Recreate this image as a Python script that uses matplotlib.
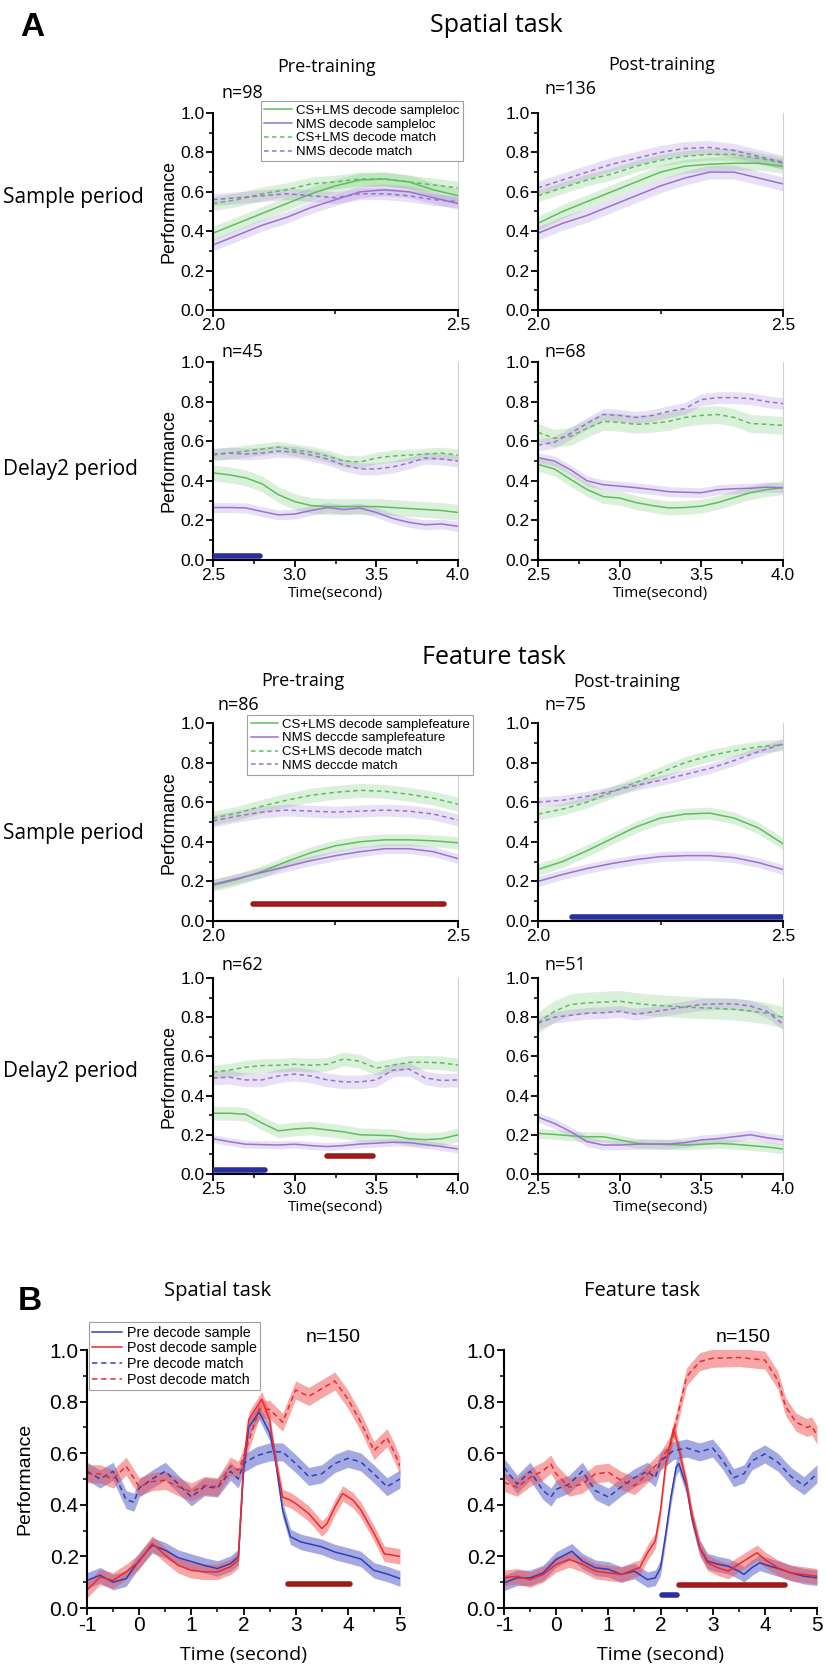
import matplotlib
matplotlib.use("Agg")
import matplotlib.pyplot as plt
from matplotlib.ticker import MultipleLocator, FormatStrFormatter

plt.rcParams["axes.unicode_minus"] = False

W, H = 826, 1672
TITLE_FONT = ["Open Sans", "DejaVu Sans"]
TICK_FONT = ["Liberation Sans", "DejaVu Sans"]

GREEN = "#5cbf5c"
PURPLE = "#9a72d0"
BLUE = "#3040b4"
RED = "#ee2a2a"
SIG_RED = "#9e1b1b"
SIG_BLUE = "#2a2f9e"

# ---- Panel A data: four curves per panel (CS+LMS sample, NMS sample, CS+LMS match, NMS match)
X_SAMPLE = [2.0, 2.05, 2.1, 2.15, 2.2, 2.25, 2.3, 2.35, 2.4, 2.45, 2.5]
X_DELAY = [2.5, 2.6, 2.7, 2.8, 2.9, 3.0, 3.1, 3.2, 3.3, 3.4, 3.5, 3.6, 3.7, 3.8, 3.9, 4.0]

# spatial task, pre-training, sample period
SP_PRE_S_CS = [.39, .44, .49, .54, .59, .63, .66, .665, .65, .61, .58]
SP_PRE_S_NMS = [.33, .38, .43, .47, .52, .56, .60, .61, .60, .57, .54]
SP_PRE_S_CSM = [.54, .56, .59, .61, .64, .65, .665, .665, .65, .635, .62]
SP_PRE_S_NMSM = [.56, .57, .58, .59, .58, .57, .59, .59, .58, .56, .55]
# spatial task, post-training, sample period
SP_POST_S_CS = [.44, .50, .55, .60, .65, .70, .73, .74, .745, .745, .73]
SP_POST_S_NMS = [.39, .44, .48, .53, .58, .63, .67, .70, .70, .67, .64]
SP_POST_S_CSM = [.58, .62, .66, .69, .73, .76, .78, .79, .79, .77, .745]
SP_POST_S_NMSM = [.62, .66, .70, .74, .77, .80, .82, .825, .81, .78, .75]
# spatial task, pre-training, delay2
SP_PRE_D_CS = [.44, .43, .415, .385, .33, .295, .275, .27, .27, .27, .27, .265, .26, .255, .25, .24]
SP_PRE_D_NMS = [.265, .265, .263, .245, .228, .232, .25, .265, .255, .262, .24, .21, .19, .178, .182, .17]
SP_PRE_D_CSM = [.53, .54, .55, .56, .57, .555, .545, .525, .50, .495, .515, .525, .53, .535, .54, .53]
SP_PRE_D_NMSM = [.535, .54, .535, .54, .55, .545, .53, .51, .48, .46, .46, .47, .49, .515, .51, .50]
# spatial task, post-training, delay2
SP_POST_D_CS = [.483, .46, .407, .356, .32, .313, .29, .275, .263, .265, .272, .29, .315, .34, .356, .365]
SP_POST_D_NMS = [.517, .50, .455, .40, .38, .373, .365, .356, .345, .342, .34, .355, .36, .362, .368, .365]
SP_POST_D_CSM = [.645, .615, .625, .665, .70, .695, .685, .69, .70, .72, .73, .735, .72, .69, .685, .68]
SP_POST_D_NMSM = [.58, .595, .64, .69, .735, .73, .72, .73, .75, .765, .81, .82, .82, .815, .80, .79]
# feature task, pre-training, sample period
FT_PRE_S_CS = [.18, .21, .25, .30, .345, .38, .40, .41, .41, .405, .395]
FT_PRE_S_NMS = [.185, .215, .245, .275, .305, .33, .35, .365, .365, .35, .315]
FT_PRE_S_CSM = [.52, .545, .58, .61, .635, .65, .66, .655, .64, .62, .59]
FT_PRE_S_NMSM = [.505, .53, .55, .56, .555, .55, .555, .56, .555, .54, .51]
# feature task, post-training, sample period
FT_POST_S_CS = [.26, .30, .355, .415, .475, .52, .54, .545, .52, .47, .39]
FT_POST_S_NMS = [.20, .235, .265, .29, .31, .325, .33, .33, .32, .295, .26]
FT_POST_S_CSM = [.54, .565, .60, .65, .70, .75, .80, .835, .86, .88, .89]
FT_POST_S_NMSM = [.60, .61, .63, .655, .685, .71, .74, .77, .81, .855, .895]
# feature task, pre-training, delay2
FT_PRE_D_CS = [.31, .31, .305, .26, .22, .23, .235, .225, .215, .20, .198, .195, .18, .175, .18, .20]
FT_PRE_D_NMS = [.18, .165, .152, .15, .148, .152, .145, .14, .145, .153, .157, .162, .16, .15, .14, .128]
FT_PRE_D_CSM = [.52, .53, .545, .553, .555, .56, .555, .56, .587, .575, .54, .555, .57, .57, .567, .556]
FT_PRE_D_NMSM = [.49, .494, .48, .48, .50, .51, .50, .48, .47, .47, .48, .53, .535, .49, .477, .48]
# feature task, post-training, delay2
FT_POST_D_CS = [.207, .202, .195, .19, .19, .174, .157, .153, .15, .148, .152, .156, .152, .145, .138, .128]
FT_POST_D_NMS = [.29, .258, .216, .165, .148, .148, .152, .153, .153, .16, .174, .18, .19, .20, .185, .174]
FT_POST_D_CSM = [.772, .83, .865, .873, .877, .882, .87, .862, .857, .852, .848, .845, .84, .832, .82, .80]
FT_POST_D_NMSM = [.77, .80, .81, .82, .823, .83, .815, .827, .84, .853, .865, .868, .868, .857, .83, .765]

# band half-widths (CS, NMS, CS match, NMS match)
SEM_SP_PRE_S = [.035, .03, .035, .03]
SEM_SP_POST_S = [.035, .035, .03, .035]
SEM_SP_PRE_D = [.04, .025, .03, .03]
SEM_SP_POST_D = [.035, .025, .045, .03]
SEM_FT_PRE_S = [.03, .025, .035, .03]
SEM_FT_POST_S = [.03, .025, .03, .025]
SEM_FT_PRE_D = [.035, .02, .035, .035]
SEM_FT_POST_D = [.025, .025, .055, .03]

N_A = ["n=98", "n=136", "n=45", "n=68", "n=86", "n=75", "n=62", "n=51"]

# significance bars: (start, end, height, colour)
SIG_SP_PRE_D = [(2.5, 2.79, 0.022, SIG_BLUE)]
SIG_FT_PRE_S = [(2.082, 2.472, 0.088, SIG_RED)]
SIG_FT_POST_S = [(2.069, 2.5, 0.022, SIG_BLUE)]
SIG_FT_PRE_D = [(2.5, 2.82, 0.022, SIG_BLUE), (3.2, 3.48, 0.09, SIG_RED)]

LEG_SP = ["CS+LMS decode sampleloc", "NMS decode sampleloc", "CS+LMS decode match", "NMS decode match"]
LEG_FT = ["CS+LMS decode samplefeature", "NMS deccde samplefeature", "CS+LMS decode match", "NMS deccde match"]

# ---- Panel B data
B_SP_PRE_S_X = [-1, -0.75, -0.5, -0.25, 0, 0.25, 0.5, 0.75, 1.0, 1.25, 1.5, 1.75, 1.9, 2.0, 2.1, 2.3, 2.5,
                2.6, 2.75, 2.9, 3.1, 3.5, 3.75, 4.0, 4.25, 4.5, 4.75, 5.0]
B_SP_PRE_S_Y = [.107, .127, .10, .114, .185, .243, .224, .195, .18, .165, .153, .172, .198, .534, .70, .76, .68,
                .59, .38, .276, .256, .237, .217, .204, .19, .146, .132, .114]
B_SP_POST_S_X = [-1, -0.75, -0.5, -0.25, 0, 0.25, 0.5, 0.75, 1.0, 1.25, 1.5, 1.75, 1.9, 2.0, 2.1, 2.35, 2.5,
                 2.6, 2.75, 2.9, 3.0, 3.25, 3.5, 3.6, 3.75, 3.9, 4.1, 4.25, 4.5, 4.7, 5.0]
B_SP_POST_S_Y = [.069, .12, .107, .14, .18, .25, .205, .165, .146, .14, .14, .16, .185, .56, .73, .81, .73,
                 .59, .43, .418, .405, .366, .308, .327, .39, .444, .418, .38, .29, .21, .20]
B_SP_PRE_M_X = [-1, -0.75, -0.5, -0.25, -0.1, 0, 0.25, 0.5, 0.75, 1.0, 1.25, 1.5, 1.75, 1.9, 2.0, 2.25, 2.5,
                2.75, 3.0, 3.25, 3.5, 3.75, 4.0, 4.25, 4.5, 4.75, 5.0]
B_SP_PRE_M_Y = [.53, .50, .53, .42, .41, .465, .50, .53, .48, .43, .47, .465, .53, .50, .56, .59, .605,
                .605, .56, .51, .52, .56, .58, .566, .52, .47, .50]
B_SP_POST_M_X = [-1, -0.75, -0.5, -0.25, 0, 0.25, 0.5, 0.75, 1.0, 1.25, 1.5, 1.75, 1.9, 2.0, 2.3, 2.5, 2.75,
                 3.0, 3.25, 3.5, 3.75, 4.0, 4.25, 4.5, 4.75, 4.9, 5.0]
B_SP_POST_M_Y = [.52, .52, .50, .55, .47, .49, .495, .47, .45, .475, .47, .55, .534, .585, .77, .77, .72,
                 .845, .82, .85, .88, .81, .72, .61, .66, .60, .55]

B_FT_PRE_S_X = [-1, -0.75, -0.5, -0.25, 0, 0.3, 0.5, 0.75, 1.0, 1.25, 1.5, 1.75, 1.9, 2.0, 2.1, 2.2, 2.3, 2.35,
                2.5, 2.6, 2.75, 2.9, 3.1, 3.3, 3.5, 3.6, 3.75, 3.9, 4.1, 4.3, 4.5, 4.75, 5.0]
B_FT_PRE_S_Y = [.097, .117, .117, .136, .188, .22, .182, .156, .15, .13, .143, .11, .117, .156, .286, .43, .545,
                .56, .47, .35, .234, .182, .17, .162, .143, .13, .156, .175, .162, .15, .136, .123, .117]
B_FT_POST_S_X = [-1, -0.75, -0.5, -0.25, 0, 0.25, 0.5, 0.75, 1.0, 1.25, 1.5, 1.6, 1.75, 1.9, 2.0, 2.1, 2.25,
                 2.35, 2.5, 2.6, 2.75, 2.9, 3.1, 3.3, 3.5, 3.7, 3.85, 4.0, 4.25, 4.5, 4.75, 5.0]
B_FT_POST_S_Y = [.117, .123, .11, .13, .169, .188, .17, .143, .136, .13, .15, .156, .214, .26, .377, .558, .695,
                 .62, .48, .364, .234, .175, .156, .143, .17, .195, .214, .188, .156, .136, .13, .123]
B_FT_PRE_M_X = [-1, -0.75, -0.5, -0.25, -0.1, 0, 0.25, 0.5, 0.75, 1.0, 1.25, 1.5, 1.75, 1.9, 2.0, 2.25, 2.5,
                2.75, 3.0, 3.2, 3.4, 3.6, 3.75, 4.0, 4.25, 4.5, 4.75, 5.0]
B_FT_PRE_M_Y = [.545, .48, .53, .455, .43, .46, .48, .53, .455, .43, .47, .505, .53, .505, .57, .61, .62,
                .605, .62, .57, .505, .52, .57, .597, .565, .51, .474, .52]
B_FT_POST_M_X = [-1, -0.75, -0.5, -0.25, -0.1, 0, 0.25, 0.5, 0.75, 1.0, 1.25, 1.5, 1.75, 2.0, 2.2, 2.35, 2.5,
                 2.75, 3.0, 3.5, 4.0, 4.25, 4.4, 4.6, 4.8, 4.9, 5.0]
B_FT_POST_M_Y = [.487, .468, .506, .532, .558, .52, .468, .48, .52, .526, .494, .474, .52, .571, .636, .766, .896,
                 .955, .968, .971, .961, .883, .78, .72, .70, .706, .669]

SEM_B = [.03, .03, .035, .035]  # pre sample, post sample, pre match, post match
SIG_B_SP = [(2.86, 4.04, 0.094, SIG_RED)]
SIG_B_FT = [(2.02, 2.31, 0.052, SIG_BLUE), (2.36, 4.39, 0.09, SIG_RED)]
LEG_B = ["Pre decode sample", "Post decode sample", "Pre decode match", "Post decode match"]


def rect(left, top, right, bottom):
    return [left / W, 1 - bottom / H, (right - left) / W, (bottom - top) / H]


def ftext(x, y, s, **kw):
    fig.text(x / W, 1 - y / H, s, **kw)


def style_axes(ax, xmajor, xminor, labelsize, right_spine=True):
    ax.spines["top"].set_visible(False)
    if right_spine:
        ax.spines["right"].set_color("#cfcfcf")
        ax.spines["right"].set_linewidth(0.8)
    else:
        ax.spines["right"].set_visible(False)
    for s in ("left", "bottom"):
        ax.spines[s].set_linewidth(1.5)
    ax.set_ylim(0, 1.0)
    ax.yaxis.set_major_locator(MultipleLocator(0.2))
    ax.yaxis.set_minor_locator(MultipleLocator(0.1))
    ax.yaxis.set_major_formatter(FormatStrFormatter("%.1f"))
    ax.xaxis.set_major_locator(MultipleLocator(xmajor))
    ax.xaxis.set_minor_locator(MultipleLocator(xminor))
    ax.tick_params(which="major", direction="out", length=5, width=1.3, labelsize=labelsize, pad=1)
    ax.tick_params(which="minor", direction="out", length=3, width=1.1)
    ax.tick_params(axis="y", which="both", right=False)
    for lab in ax.get_xticklabels() + ax.get_yticklabels():
        lab.set_family(TICK_FONT)


def draw_sig(ax, bars):
    for x0, x1, y, c in bars:
        ax.plot([x0, x1], [y, y], color=c, lw=4, solid_capstyle="round", zorder=5)


def add_legend(ax, lines, labels, anchor, size, hlen):
    leg = ax.legend(lines, labels, loc="upper left", bbox_to_anchor=anchor, borderaxespad=0,
                    handlelength=hlen, handletextpad=0.3, labelspacing=0.12,
                    borderpad=0.25, fancybox=False, framealpha=1, edgecolor="#a0a0a0",
                    prop={"family": TICK_FONT, "size": size})
    leg.get_frame().set_linewidth(0.8)


fig = plt.figure(figsize=(W / 100, H / 100), dpi=100)

# ---- Panel A
COLS = [(213, 458), (538, 783)]
ROWS = [(113, 310), (362, 560), (723, 921), (978, 1174)]
panels_a = [
    (X_SAMPLE, [SP_PRE_S_CS, SP_PRE_S_NMS, SP_PRE_S_CSM, SP_PRE_S_NMSM], SEM_SP_PRE_S, []),
    (X_SAMPLE, [SP_POST_S_CS, SP_POST_S_NMS, SP_POST_S_CSM, SP_POST_S_NMSM], SEM_SP_POST_S, []),
    (X_DELAY, [SP_PRE_D_CS, SP_PRE_D_NMS, SP_PRE_D_CSM, SP_PRE_D_NMSM], SEM_SP_PRE_D, SIG_SP_PRE_D),
    (X_DELAY, [SP_POST_D_CS, SP_POST_D_NMS, SP_POST_D_CSM, SP_POST_D_NMSM], SEM_SP_POST_D, []),
    (X_SAMPLE, [FT_PRE_S_CS, FT_PRE_S_NMS, FT_PRE_S_CSM, FT_PRE_S_NMSM], SEM_FT_PRE_S, SIG_FT_PRE_S),
    (X_SAMPLE, [FT_POST_S_CS, FT_POST_S_NMS, FT_POST_S_CSM, FT_POST_S_NMSM], SEM_FT_POST_S, SIG_FT_POST_S),
    (X_DELAY, [FT_PRE_D_CS, FT_PRE_D_NMS, FT_PRE_D_CSM, FT_PRE_D_NMSM], SEM_FT_PRE_D, SIG_FT_PRE_D),
    (X_DELAY, [FT_POST_D_CS, FT_POST_D_NMS, FT_POST_D_CSM, FT_POST_D_NMSM], SEM_FT_POST_D, []),
]
colors_a = [GREEN, PURPLE, GREEN, PURPLE]
styles_a = ["-", "-", (0, (3, 2.2)), (0, (3, 2.2))]
n_pos = [(222, 93), (545, 89), (222, 352), (545, 352), (218, 705), (545, 705), (222, 965), (545, 965)]

for i, (xs, ys, sems, sig) in enumerate(panels_a):
    r, c = divmod(i, 2)
    (l, rr), (t, b) = COLS[c], ROWS[r]
    ax = fig.add_axes(rect(l, t, rr, b))
    lines = []
    for y, sem, col, ls in zip(ys, sems, colors_a, styles_a):
        ax.fill_between(xs, [v - sem for v in y], [v + sem for v in y], color=col, alpha=0.22, lw=0)
        ln, = ax.plot(xs, y, color=col, ls=ls, lw=1.1)
        lines.append(ln)
    draw_sig(ax, sig)
    ax.set_xlim(xs[0], xs[-1])
    style_axes(ax, 0.5, 0.25, 12.5)
    if r in (1, 3):
        ax.set_xlabel("Time(second)", family=TITLE_FONT, fontsize=11, labelpad=2)
    if c == 0:
        ax.set_ylabel("Performance", family=TICK_FONT, fontsize=13)
        ax.yaxis.set_label_coords(-0.145, 0.5)
    if i == 0:
        add_legend(ax, lines, LEG_SP, (0.196, 1.06), 9.5, 2.1)
    if i == 4:
        add_legend(ax, lines, LEG_FT, (0.14, 1.04), 9.5, 2.1)
    nx, ny = n_pos[i]
    ftext(nx, ny, N_A[i], family=TITLE_FONT, fontsize=13, ha="left", va="center")

# ---- Panel A titles
ftext(32, 27, "A", family=TICK_FONT, fontsize=24, weight="bold", ha="center", va="center")
ftext(496, 25, "Spatial task", family=TITLE_FONT, fontsize=18, ha="center", va="center")
ftext(327, 67, "Pre-training", family=TITLE_FONT, fontsize=13, ha="center", va="center")
ftext(662, 65, "Post-training", family=TITLE_FONT, fontsize=13, ha="center", va="center")
ftext(494, 657, "Feature task", family=TITLE_FONT, fontsize=18, ha="center", va="center")
ftext(303, 681, "Pre-traing", family=TITLE_FONT, fontsize=13, ha="center", va="center")
ftext(627, 682, "Post-training", family=TITLE_FONT, fontsize=13, ha="center", va="center")
for y, s in [(198, "Sample period"), (469, "Delay2 period"), (834, "Sample period"), (1071, "Delay2 period")]:
    ftext(3, y, s, family=TITLE_FONT, fontsize=15, ha="left", va="center")

# ---- Panel B
panels_b = [
    ([(B_SP_PRE_S_X, B_SP_PRE_S_Y), (B_SP_POST_S_X, B_SP_POST_S_Y),
      (B_SP_PRE_M_X, B_SP_PRE_M_Y), (B_SP_POST_M_X, B_SP_POST_M_Y)], SIG_B_SP, (87, 400), "Spatial task", 218),
    ([(B_FT_PRE_S_X, B_FT_PRE_S_Y), (B_FT_POST_S_X, B_FT_POST_S_Y),
      (B_FT_PRE_M_X, B_FT_PRE_M_Y), (B_FT_POST_M_X, B_FT_POST_M_Y)], SIG_B_FT, (504, 817), "Feature task", 642),
]
colors_b = [BLUE, RED, BLUE, RED]
fills_b = ["#4a56c4", "#f05050", "#4a56c4", "#f05050"]
styles_b = ["-", "-", (0, (3.5, 2.5)), (0, (3.5, 2.5))]

for j, (series, sig, (l, rr), title, tx) in enumerate(panels_b):
    ax = fig.add_axes(rect(l, 1350, rr, 1608))
    lines = []
    for (xs, y), sem, col, fc, ls in zip(series, SEM_B, colors_b, fills_b, styles_b):
        ax.fill_between(xs, [v - sem for v in y], [v + sem for v in y], color=fc, alpha=0.5, lw=0)
        ln, = ax.plot(xs, y, color=col, ls=ls, lw=1.1)
        lines.append(ln)
    draw_sig(ax, sig)
    ax.set_xlim(-1, 5)
    style_axes(ax, 1, 0.5, 15, right_spine=False)
    ax.xaxis.set_major_formatter(FormatStrFormatter("%d"))
    for lab in ax.get_xticklabels():
        lab.set_family(TICK_FONT)
    ax.set_xlabel("Time (second)", family=TITLE_FONT, fontsize=14, labelpad=8)
    if j == 0:
        ax.set_ylabel("Performance", family=TICK_FONT, fontsize=14)
        ax.yaxis.set_label_coords(-0.17, 0.5)
        add_legend(ax, lines, LEG_B, (0.006, 1.108), 10.3, 2.1)
    ftext(tx, 1291, title, family=TITLE_FONT, fontsize=14.5, ha="center", va="center")
    ftext(333 if j == 0 else 743, 1338, "n=150", family=TICK_FONT, fontsize=14, ha="center", va="center")

ftext(30, 1302, "B", family=TICK_FONT, fontsize=24, weight="bold", ha="center", va="center")

fig.savefig("out.png", dpi=100)
